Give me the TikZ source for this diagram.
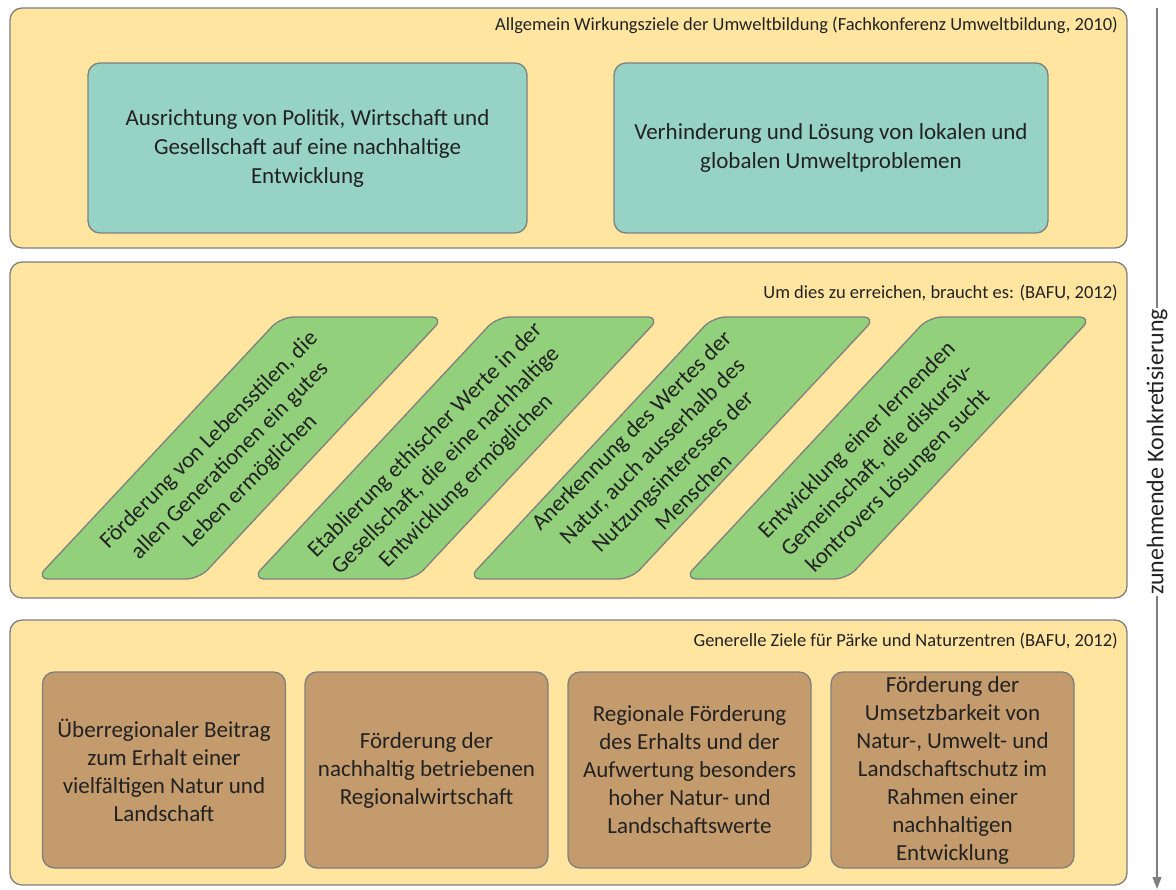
\documentclass[tikz,border=0pt]{standalone}
\usepackage{fontspec}
\setmainfont{Carlito}
\usetikzlibrary{arrows.meta}

\definecolor{panelfill}{HTML}{FFE5A0}
\definecolor{tealfill}{HTML}{97D3C4}
\definecolor{greenfill}{HTML}{93D07C}
\definecolor{brownfill}{HTML}{C49B6C}
\definecolor{edgegray}{HTML}{7F7F7F}
\definecolor{txt}{HTML}{222222}

\begin{document}
\begin{tikzpicture}[x=1pt, y=-1pt,
    panel/.style={draw=edgegray, line width=1.3pt, fill=panelfill, rounded corners=12pt},
    paneltitle/.style={anchor=east, inner sep=0pt, text=txt, font=\fontsize{18.5}{22}\selectfont},
    goalbox/.style={draw=edgegray, line width=1.3pt, fill=tealfill, rounded corners=12pt,
        minimum height=170pt, align=center, text=txt, font=\fontsize{23}{29}\selectfont},
    needpara/.style={draw=edgegray, line width=1.3pt, fill=greenfill, rounded corners=13pt},
    needtext/.style={rotate=45, align=center, inner sep=0pt, text=txt, font=\fontsize{23}{29}\selectfont},
    parkbox/.style={draw=edgegray, line width=1.3pt, fill=brownfill, rounded corners=12pt,
        minimum width=243pt, minimum height=196pt, inner sep=1pt, align=center, text=txt,
        font=\fontsize{23}{28}\selectfont},
    arrowline/.style={draw=edgegray, line width=1.3pt}
]
    \useasboundingbox (0,0) rectangle (1176,890);

    % Wirkungsziele
    \draw[panel] (10,8) rectangle (1127,248);
    \node[paneltitle] (title1) at (1118,25) {Allgemein Wirkungsziele der Umweltbildung (Fachkonferenz Umweltbildung, 2010)};
    \node[goalbox, minimum width=439pt] (goal1) at (307.5,148) {Ausrichtung von Politik, Wirtschaft und\\Gesellschaft auf eine nachhaltige\\Entwicklung};
    \node[goalbox, minimum width=434pt] (goal2) at (831,148) {Verhinderung und Lösung von lokalen und\\globalen Umweltproblemen};

    % was es braucht
    \draw[panel] (10,262) rectangle (1127,598);
    \node[paneltitle] (title2) at (1118,293) {Um dies zu erreichen, braucht es: (BAFU, 2012)};
    \draw[needpara] (281,317) -- (444,317) -- (199,579) -- (36,579) -- cycle;
    \draw[needpara] (497,317) -- (660,317) -- (415,579) -- (252,579) -- cycle;
    \draw[needpara] (713,317) -- (876,317) -- (631,579) -- (468,579) -- cycle;
    \draw[needpara] (929,317) -- (1092,317) -- (847,579) -- (684,579) -- cycle;
    \node[needtext] (need1) at (230,461) {Förderung von Lebensstilen, die\\allen Generationen ein gutes\\Leben ermöglichen};
    \node[needtext] (need2) at (446,461) {Etablierung ethischer Werte in der\\Gesellschaft, die eine nachhaltige\\Entwicklung ermöglichen};
    \node[needtext] (need3) at (662,461) {Anerkennung des Wertes der\\Natur, auch ausserhalb des\\Nutzungsinteresses der\\Menschen};
    \node[needtext] (need4) at (878,461) {Entwicklung einer lernenden\\Gemeinschaft, die diskursiv-\\kontrovers Lösungen sucht};

    % Ziele Paerke
    \draw[panel] (10,620) rectangle (1127,885);
    \node[paneltitle] (title3) at (1118,641) {Generelle Ziele für Pärke und Naturzentren (BAFU, 2012)};
    \node[parkbox] (park1) at (164,770) {Überregionaler Beitrag\\zum Erhalt einer\\vielfältigen Natur und\\Landschaft};
    \node[parkbox] (park2) at (426.5,770) {Förderung der\\nachhaltig betriebenen\\Regionalwirtschaft};
    \node[parkbox] (park3) at (689.5,770) {Regionale Förderung\\des Erhalts und der\\Aufwertung besonders\\hoher Natur- und\\Landschaftswerte};
    \node[parkbox] (park4) at (952.5,770) {Förderung der\\Umsetzbarkeit von\\Natur-, Umwelt- und\\Landschaftschutz im\\Rahmen einer\\nachhaltigen\\Entwicklung};

    % Pfeil
    \node[rotate=90, inner sep=1pt, text=txt, font=\fontsize{24}{28}\selectfont] (konkr) at (1157,452) {zunehmende Konkretisierung};
    \coordinate (arrtop) at (1157,8);
    \coordinate (arrbot) at (1157,889);
    \draw[arrowline] (arrtop) -- (konkr.east);
    \draw[arrowline, -{Triangle[width=9pt, length=12pt]}] (konkr.west) -- (arrbot);
\end{tikzpicture}
\end{document}
